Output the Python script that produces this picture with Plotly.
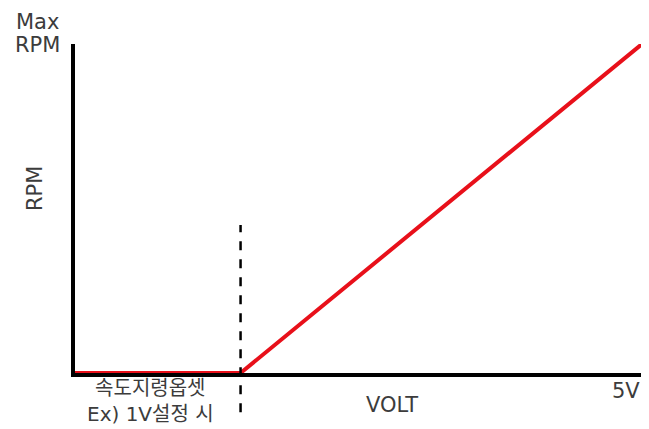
import plotly.graph_objects as go

# schematic: speed command offset, RPM vs VOLT
volt = [0, 1.46, 5]
rpm = [0, 0, 1]
offset_volt = 1.46

FONT = "DejaVu Sans, Noto Sans CJK KR, sans-serif"
TEXT = "#3c3c3c"

fig = go.Figure()
fig.add_trace(go.Scatter(x=volt, y=rpm, mode="lines",
                         line=dict(color="#e8101a", width=4), cliponaxis=False))

# dashed marker at the offset voltage
fig.add_shape(type="line", xref="x", yref="paper", x0=offset_volt, x1=offset_volt,
              y0=-0.119, y1=0.45, line=dict(color="black", width=2.5, dash="dash"))

fig.update_xaxes(range=[0, 5], showline=True, linecolor="black", linewidth=4,
                 showgrid=False, zeroline=False, showticklabels=False, ticks="")
fig.update_yaxes(range=[0, 1], showline=True, linecolor="black", linewidth=4,
                 showgrid=False, zeroline=False, showticklabels=False, ticks="")

# text centres in page pixels; plot area spans x 75..642, y 44..373
ann = [
    dict(text="Max", x=37, y=22, size=21),
    dict(text="RPM", x=37, y=45, size=21),
    dict(text="RPM", x=35, y=189, size=21, angle=-90),
    dict(text="VOLT", x=392, y=405, size=21),
    dict(text="5V", x=626, y=391, size=21),
    dict(text="속도지령옵셋<br>Ex) 1V설정 시", x=150, y=401, size=20),
]
for a in ann:
    fig.add_annotation(text=a["text"], xref="paper", yref="paper",
                       x=(a["x"] - 75) / 567, y=(373 - a["y"]) / 329,
                       xanchor="center", yanchor="middle", textangle=a.get("angle", 0),
                       showarrow=False, font=dict(family=FONT, size=a["size"], color=TEXT))

# page body has an 8px default margin, so the figure starts at (8, 8)
fig.update_layout(
    width=641, height=421, showlegend=False,
    margin=dict(l=67, r=7, t=36, b=56),
    paper_bgcolor="white", plot_bgcolor="white",
)

fig.write_html("out.html")
